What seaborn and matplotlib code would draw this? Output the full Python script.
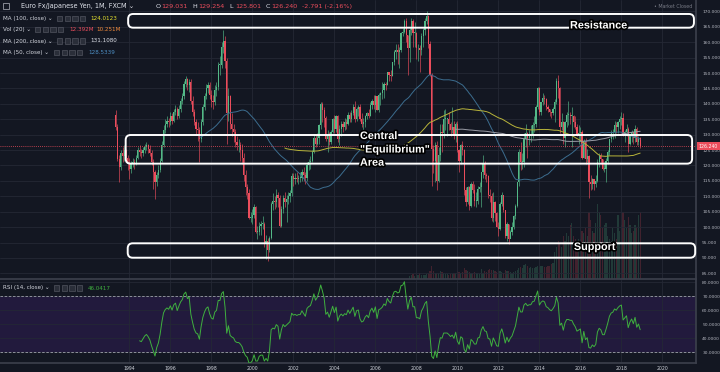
import numpy as np
import pandas as pd
import matplotlib
matplotlib.use('Agg')
import matplotlib.pyplot as plt
import matplotlib.patheffects as pe
from matplotlib.patches import FancyBboxPatch, Rectangle
from matplotlib.transforms import IdentityTransform
import seaborn as sns

# %%
# EUR/JPY monthly candles (FXCM), May 1993 .. Dec 2018, one row per year
first_open = 136.5
closes = [
    132.5, 122.0, 119.5, 124.0, 123.0, 125.0, 122.5, 121.0,
    119.0, 120.5, 121.0, 120.5, 122.5, 125.0, 124.5, 124.0, 125.0, 126.0, 126.5, 125.5,
    124.0, 121.0, 118.0, 114.5, 117.0, 118.5, 121.5, 126.5, 131.5, 133.5, 134.5, 134.0,
    136.0, 134.5, 137.5, 138.5, 136.0, 138.5, 141.0, 142.5, 146.5, 148.0, 146.0, 147.0,
    141.0, 137.5, 134.0, 132.0, 131.5, 128.5, 134.0, 139.0, 142.5, 145.0, 146.0, 143.0,
    141.0, 140.5, 144.5, 145.5, 152.5, 152.5, 158.5, 160.5, 154.0, 137.0, 142.5, 133.5,
    132.0, 131.0, 127.5, 126.5, 126.5, 125.0, 122.5, 117.0, 113.0, 111.0, 103.0, 103.0,
    104.0, 106.5, 98.5, 98.5, 100.5, 101.0, 101.0, 94.5, 95.5, 92.5, 96.5, 107.5,
    108.5, 108.0, 110.5, 109.5, 100.5, 106.0, 109.5, 108.0, 109.0, 110.0, 111.0, 116.5,
    115.5, 116.0, 115.5, 116.0, 116.0, 118.0, 117.0, 116.0, 120.0, 121.0, 121.5, 124.5,
    129.0, 127.0, 129.0, 133.0, 140.0, 138.0, 135.5, 128.5, 130.0, 127.5, 131.0, 135.0,
    132.0, 136.0, 128.5, 132.0, 133.5, 132.5, 134.0, 133.5, 136.5, 135.0, 137.0, 139.0,
    135.0, 138.5, 139.0, 135.0, 133.5, 134.0, 136.0, 137.0, 136.0, 139.5, 141.0, 139.5,
    142.5, 138.0, 143.0, 143.5, 144.5, 146.5, 146.0, 150.5, 149.5, 149.0, 153.5, 157.0,
    157.5, 157.0, 157.5, 163.0, 163.5, 167.0, 162.5, 158.0, 164.0, 167.0, 163.0, 163.0,
    158.0, 158.0, 157.5, 162.0, 164.0, 167.0, 168.5, 159.5, 149.5, 125.5, 121.5, 126.5,
    115.0, 123.5, 131.0, 130.5, 135.0, 135.0, 135.0, 133.5, 131.5, 132.5, 129.5, 133.5,
    125.0, 121.5, 126.5, 125.0, 112.0, 108.0, 113.0, 107.0, 114.0, 112.0, 108.5, 108.5,
    112.5, 113.0, 118.0, 120.5, 117.0, 116.5, 110.5, 110.0, 103.0, 108.0, 104.5, 100.0,
    99.5, 107.5, 110.5, 105.5, 97.0, 101.0, 96.0, 98.5, 100.0, 103.5, 107.0, 114.5,
    124.5, 121.0, 121.0, 128.5, 130.5, 129.0, 130.0, 130.0, 133.0, 133.5, 139.0, 145.0,
    137.5, 140.5, 142.0, 141.5, 139.0, 138.5, 137.5, 137.0, 138.5, 140.5, 147.5, 145.0,
    132.5, 134.0, 129.0, 134.0, 136.5, 136.5, 136.0, 136.0, 134.0, 132.5, 130.0, 130.5,
    131.0, 122.5, 128.0, 122.0, 123.0, 114.5, 114.0, 115.5, 114.0, 115.0, 121.0, 123.0,
    122.0, 119.0, 119.0, 121.5, 124.5, 128.5, 130.5, 131.0, 133.0, 132.5, 134.0, 135.0,
    135.5, 130.0, 131.0, 132.0, 127.0, 129.5, 131.0, 129.0, 132.0, 127.5, 129.031, 126.24,
]
highs = [
    138.0, 133.5, 123.5, 125.0, 126.0, 126.5, 125.5, 123.5,
    122.5, 121.5, 122.5, 122.0, 123.5, 126.0, 126.5, 125.5, 126.0, 127.0, 127.5, 127.0,
    126.5, 125.0, 122.0, 118.5, 118.0, 120.0, 122.5, 128.0, 133.0, 135.0, 136.0, 135.5,
    137.5, 137.0, 138.5, 139.5, 139.0, 139.5, 142.0, 143.5, 147.5, 149.0, 148.5, 148.0,
    148.0, 142.5, 138.5, 135.0, 134.0, 132.5, 135.0, 140.0, 143.5, 146.5, 147.0, 147.0,
    144.5, 143.0, 146.0, 147.0, 153.5, 155.5, 160.0, 164.0, 162.0, 155.0, 145.0, 143.0,
    137.0, 133.5, 132.0, 129.5, 128.5, 127.5, 127.0, 124.0, 118.5, 114.0, 112.5, 105.0,
    106.0, 107.5, 107.0, 100.5, 101.5, 102.0, 103.5, 101.5, 97.5, 96.5, 97.0, 108.0,
    111.0, 110.0, 112.5, 111.5, 110.5, 107.0, 110.5, 111.5, 110.5, 111.5, 112.0, 117.5,
    117.5, 117.5, 118.0, 117.0, 118.0, 119.0, 119.5, 118.0, 121.0, 122.0, 123.0, 125.0,
    130.0, 130.0, 130.5, 133.5, 140.5, 140.5, 139.0, 136.0, 131.5, 131.0, 131.5, 135.5,
    136.5, 136.5, 136.5, 133.0, 134.5, 134.5, 135.5, 135.0, 137.5, 137.5, 138.0, 140.0,
    141.0, 139.0, 139.5, 140.0, 137.0, 135.5, 136.5, 137.5, 138.5, 140.5, 141.5, 143.0,
    143.0, 142.5, 143.5, 144.0, 147.0, 147.0, 147.0, 150.5, 150.5, 151.0, 153.5, 157.5,
    159.5, 159.5, 158.5, 163.5, 164.5, 167.5, 168.0, 162.5, 165.0, 168.0, 167.5, 166.5,
    163.5, 159.5, 159.0, 163.0, 164.5, 168.0, 170.0, 169.0, 160.5, 150.0, 126.5, 127.5,
    128.0, 126.0, 133.5, 133.5, 138.0, 138.5, 135.5, 137.5, 134.0, 139.0, 134.5, 134.0,
    134.5, 125.5, 127.0, 128.0, 125.5, 113.0, 113.5, 113.5, 114.5, 115.0, 114.0, 111.5,
    113.5, 114.5, 118.0, 123.5, 121.5, 117.5, 117.0, 112.5, 111.0, 111.5, 108.5, 105.0,
    101.5, 108.0, 111.5, 110.5, 105.5, 101.5, 101.0, 99.0, 101.5, 104.0, 107.5, 114.5,
    125.5, 127.5, 124.0, 130.5, 133.5, 131.0, 131.5, 133.0, 134.0, 136.0, 139.5, 145.5,
    145.5, 140.5, 143.5, 143.0, 142.0, 139.5, 138.5, 137.5, 139.0, 141.5, 148.5, 149.5,
    145.5, 137.0, 134.5, 134.5, 137.5, 141.0, 137.5, 139.0, 136.5, 136.0, 133.5, 133.0,
    132.5, 131.5, 128.5, 129.0, 125.5, 123.5, 117.0, 116.0, 115.5, 117.0, 122.0, 124.0,
    124.0, 122.0, 121.0, 122.5, 125.0, 128.5, 131.5, 132.0, 134.5, 134.0, 134.5, 136.0,
    137.5, 137.0, 131.5, 133.5, 132.5, 130.0, 131.5, 131.0, 133.0, 132.5, 129.5, 129.254,
]
lows = [
    131.5, 121.5, 114.5, 118.5, 121.0, 121.5, 121.0, 118.5,
    115.5, 117.5, 119.5, 119.0, 120.0, 122.0, 123.0, 122.5, 123.0, 124.0, 125.0, 124.0,
    123.0, 120.0, 112.5, 109.0, 113.5, 116.0, 118.0, 121.0, 126.0, 130.5, 132.5, 132.5,
    133.0, 133.5, 134.0, 136.5, 135.0, 135.5, 137.5, 140.0, 141.5, 145.5, 144.5, 144.0,
    140.0, 136.0, 133.0, 130.0, 128.0, 121.0, 127.5, 133.0, 138.0, 141.5, 143.5, 141.5,
    139.0, 138.5, 139.5, 142.5, 144.5, 149.5, 151.5, 156.5, 151.5, 127.0, 134.5, 132.0,
    129.5, 127.5, 126.0, 125.0, 124.5, 121.5, 120.5, 115.0, 110.5, 109.0, 102.5, 101.5,
    101.0, 103.0, 98.0, 96.0, 97.5, 97.5, 99.5, 93.5, 89.5, 89.0, 92.0, 96.0,
    105.5, 106.0, 106.5, 106.5, 100.0, 100.0, 104.5, 106.5, 101.5, 107.5, 108.0, 110.0,
    113.5, 114.0, 114.5, 114.0, 114.5, 115.0, 115.0, 114.0, 115.0, 118.5, 119.0, 121.0,
    124.0, 126.0, 126.5, 127.0, 132.0, 134.0, 132.5, 128.0, 124.5, 126.5, 127.0, 130.5,
    130.5, 131.0, 127.5, 126.5, 129.5, 131.0, 131.5, 132.0, 133.0, 134.0, 134.0, 136.5,
    134.0, 134.5, 136.0, 134.5, 132.5, 131.5, 132.5, 135.0, 135.5, 136.0, 138.5, 138.5,
    137.5, 138.0, 137.5, 139.5, 141.5, 142.0, 144.5, 146.0, 147.5, 147.5, 149.0, 152.5,
    154.5, 153.0, 151.5, 157.0, 162.0, 163.0, 160.0, 149.5, 153.5, 162.5, 158.5, 158.5,
    154.5, 154.0, 150.5, 156.0, 158.5, 162.5, 166.0, 158.0, 149.0, 113.5, 117.5, 114.5,
    112.0, 114.5, 121.5, 124.5, 129.0, 131.5, 129.5, 131.5, 129.5, 130.5, 128.5, 127.5,
    124.5, 118.0, 120.5, 123.5, 110.5, 107.0, 107.5, 105.5, 106.5, 111.0, 107.0, 106.5,
    107.5, 111.5, 106.5, 116.0, 115.5, 114.5, 109.5, 108.0, 102.0, 101.5, 102.0, 100.0,
    97.0, 99.0, 107.0, 105.0, 96.5, 95.5, 94.5, 96.5, 97.5, 99.5, 102.5, 106.5,
    113.5, 118.5, 119.0, 119.5, 126.0, 122.5, 126.5, 127.5, 129.0, 131.0, 132.5, 138.5,
    136.5, 136.5, 139.5, 140.0, 138.0, 137.5, 136.0, 135.5, 136.5, 134.0, 140.0, 142.0,
    130.5, 131.5, 127.0, 126.0, 132.5, 133.0, 133.5, 126.0, 132.5, 132.0, 129.5, 127.0,
    128.0, 122.0, 122.5, 120.5, 121.0, 109.5, 112.0, 112.5, 112.0, 113.0, 114.5, 119.5,
    120.5, 118.5, 118.0, 114.5, 120.5, 123.5, 127.5, 128.5, 129.0, 130.5, 130.5, 132.0,
    133.0, 129.5, 127.5, 129.5, 124.5, 126.5, 127.5, 127.0, 127.5, 126.5, 126.5, 125.801,
]
# FXCM volume (millions), Sep 2007 .. Dec 2018
vol_start = '2007-09-01'
volumes = [
    0.5, 0.7, 0.9, 0.6,
    0.9, 0.8, 1.1, 0.8, 0.8, 0.8, 0.9, 1.1, 1.5, 2.4, 1.5, 1.2,
    1.2, 1.1, 1.4, 1.3, 1.1, 1.0, 0.9, 0.8, 1.0, 1.0, 1.1, 1.2,
    1.4, 1.3, 1.2, 1.3, 2.0, 1.6, 1.4, 1.3, 1.2, 1.1, 1.3, 1.2,
    1.2, 1.0, 1.8, 1.2, 1.5, 1.3, 1.6, 1.8, 1.6, 1.7, 1.5, 1.3,
    1.5, 1.4, 1.3, 1.2, 1.6, 1.5, 1.4, 1.3, 1.2, 1.3, 1.4, 1.6,
    2.0, 2.2, 2.0, 2.6, 2.8, 2.4, 2.0, 2.2, 2.1, 2.0, 2.3, 2.5,
    2.3, 2.4, 2.5, 2.3, 2.2, 2.4, 2.5, 2.8, 3.0, 5.0, 6.0, 7.0,
    6.5, 6.0, 8.0, 7.0, 8.5, 8.0, 10.0, 10.5, 8.0, 7.5, 7.0, 7.5,
    7.5, 9.0, 8.5, 9.5, 8.0, 12.5, 11.0, 9.0, 8.5, 10.5, 14.0, 12.5,
    12.0, 9.5, 10.0, 10.5, 8.0, 7.5, 7.0, 9.5, 8.5, 7.5, 12.0, 9.0,
    10.0, 12.5, 11.0, 9.5, 11.5, 10.0, 8.5, 9.0, 10.0, 9.5, 12.0, 12.4,
]
last_close = 126.24
year_ticks = list(range(1994, 2021, 2))
price_ticks = list(range(85, 171, 5))
rsi_ticks = [30, 40, 50, 60, 70, 80]

# zones drawn on the chart: (x from, x to, price low, price high)
zones = {
    'Resistance': (1993.94, 2021.54, 164.74, 169.19),
    'Central': (1993.82, 2021.45, 120.6, 129.9),
    'Support': (1993.92, 2021.60, 90.06, 94.74),
}

# %%
bg = '#131722'
grid_c = '#242835'
up_c = '#53b987'
dn_c = '#eb4d5c'
sns.set_theme(style='dark', rc={'axes.facecolor': bg, 'figure.facecolor': bg,
                                'axes.edgecolor': '#3b3f4b', 'grid.color': grid_c,
                                'text.color': '#d1d4dc', 'xtick.color': '#d1d4dc',
                                'ytick.color': '#b2b5be'})
plt.rcParams['font.family'] = ['DejaVu Sans']

dates = pd.date_range('1993-05-01', periods=len(closes), freq='MS')
df = pd.DataFrame({'x': dates.year + (dates.month - 1) / 12.0,
                   'open': [first_open] + closes[:-1],
                   'high': highs, 'low': lows, 'close': closes}, index=dates)
df['up'] = df['close'] >= df['open']
df['ma50'] = df['close'].rolling(50).mean()
df['ma100'] = df['close'].rolling(100).mean()
df['ma200'] = df['close'].rolling(200).mean()

# RSI 14 with Wilder smoothing, seeded by a simple mean like TradingView
d = df['close'].diff().values
g = np.clip(d, 0, None)
l = np.clip(-d, 0, None)
rsi = np.full(len(d), np.nan)
ag, al = g[1:15].mean(), l[1:15].mean()
rsi[14] = 100 - 100 / (1 + ag / al)
for i in range(15, len(d)):
    ag = (ag * 13 + g[i]) / 14
    al = (al * 13 + l[i]) / 14
    rsi[i] = 100 - 100 / (1 + ag / al)
df['rsi'] = rsi
vol = pd.Series(volumes, index=pd.date_range(vol_start, periods=len(volumes), freq='MS'))
df['vol'] = vol

# %%
W, H = 720, 372
fig = plt.figure(figsize=(7.2, 3.72), dpi=100)
aw = 696 / W
ax_vol = fig.add_axes([0, 1 - 279 / H, aw, 279 / H])
ax = fig.add_axes([0, 1 - 279 / H, aw, 279 / H], facecolor='none')
ax_rsi = fig.add_axes([0, 1 - 363 / H, aw, 83 / H])
xlim = (1987.69, 2021.64)
for a in (ax_vol, ax, ax_rsi):
    a.set_xlim(xlim)
    for s in a.spines.values():
        s.set_visible(False)

# volume underneath
vd = df.dropna(subset=['vol'])
vcols = [(0.33, 0.73, 0.53, 0.22) if u else (0.92, 0.30, 0.36, 0.22) for u in vd['up']]
ax_vol.bar(vd['x'], vd['vol'], width=0.058, color=vcols, linewidth=0)
ax_vol.set_ylim(0, 52)
ax_vol.set_xticks([])
ax_vol.set_yticks([])

# candles
cols = [up_c if u else dn_c for u in df['up']]
ax.vlines(df['x'], df['low'], df['high'], colors=cols, linewidth=0.45, zorder=3)
body = np.maximum((df['close'] - df['open']).abs(), 0.3)
ax.bar(df['x'], body, bottom=df[['open', 'close']].min(axis=1), width=0.058,
       color=cols, linewidth=0, zorder=4)
sns.lineplot(data=df, x='x', y='ma50', ax=ax, color='#3c6d8f', lw=0.7, zorder=5, estimator=None)
sns.lineplot(data=df, x='x', y='ma100', ax=ax, color='#b8b43a', lw=0.7, zorder=5, estimator=None)
sns.lineplot(data=df, x='x', y='ma200', ax=ax, color='#9a9ca6', lw=0.7, zorder=5, estimator=None)
ax.axhline(last_close, color=dn_c, lw=0.6, ls=(0, (1, 1.5)), zorder=6)

ax.set_ylim(83.15, 173.73)
ax.set_xticks(year_ticks)
ax.set_yticks(price_ticks)
ax.set_yticklabels([f'{v:.3f}' for v in price_ticks])
ax.yaxis.tick_right()
ax.tick_params(axis='y', labelsize=3.2, length=0, pad=4.5, labelcolor='#b2b5be')
ax.tick_params(axis='x', labelbottom=False, length=0)
ax.grid(True, color=grid_c, lw=0.6)
ax.set_xlabel('')
ax.set_ylabel('')
ax.spines['right'].set_visible(True)
ax.spines['right'].set_color('#3b3f4b')
ax.spines['bottom'].set_visible(True)
ax.spines['bottom'].set_color('#3b3f4b')

# last price tag
ax.text(1.004, last_close, f'{last_close:.3f}', transform=ax.get_yaxis_transform(),
        ha='left', va='center', fontsize=3.3, color='white', zorder=20, clip_on=False,
        bbox=dict(boxstyle='square,pad=0.35', fc=dn_c, ec='none'))

# zone boxes and labels
lab_kw = dict(color='white', fontsize=7.8, fontweight='bold', family=['Liberation Sans', 'DejaVu Sans'],
              path_effects=[pe.withStroke(linewidth=2.4, foreground='black')], zorder=12)
for name, (x0, x1, y0, y1) in zones.items():
    (px0, py0), (px1, py1) = ax.transData.transform([(x0, y0), (x1, y1)])
    box = FancyBboxPatch((px0, py0), px1 - px0, py1 - py0,
                         boxstyle='round,pad=0,rounding_size=5', transform=IdentityTransform(),
                         fill=False, ec='white', lw=1.4, zorder=9, clip_on=False)
    ax.add_artist(box)
ax.text(2016.9, 164.48, 'Resistance', ha='center', va='baseline', **lab_kw)
ax.text(2005.25, 128.6, 'Central', ha='left', va='baseline', **lab_kw)
ax.text(2005.25, 124.2, '"Equilibrium"', ha='left', va='baseline', **lab_kw)
ax.text(2005.25, 119.94, 'Area', ha='left', va='baseline', **lab_kw)
ax.text(2016.7, 92.57, 'Support', ha='center', va='baseline', **lab_kw)

# RSI pane
ax_rsi.axhspan(30, 70, color='#221a3d', lw=0, zorder=0)
sns.lineplot(data=df, x='x', y='rsi', ax=ax_rsi, color='#3fb03f', lw=0.7, zorder=3, estimator=None)
for lvl in (70, 30):
    ax_rsi.axhline(lvl, color='#9fa2ab', lw=0.6, ls=(0, (3, 2)), zorder=2)
ax_rsi.set_ylim(22.4, 81.6)
ax_rsi.set_yticks(rsi_ticks)
ax_rsi.set_yticklabels([f'{v:.4f}' for v in rsi_ticks])
ax_rsi.yaxis.tick_right()
ax_rsi.tick_params(axis='y', labelsize=3.2, length=0, pad=4.5, labelcolor='#b2b5be')
ax_rsi.set_xticks(year_ticks)
ax_rsi.set_xticklabels([str(y) for y in year_ticks])
ax_rsi.tick_params(axis='x', labelsize=3.3, length=0, pad=2.2, labelcolor='#d1d4dc')
ax_rsi.grid(True, color=grid_c, lw=0.6)
ax_rsi.set_xlabel('')
ax_rsi.set_ylabel('')
for s in ('right', 'bottom'):
    ax_rsi.spines[s].set_visible(True)
    ax_rsi.spines[s].set_color('#3b3f4b')

# %%
# header / legend texts (pixel positions)
def ftxt(x, y, s, color='#d1d4dc', size=4.1, **kw):
    fig.text(x / W, 1 - y / H, s, color=color, fontsize=size, va='center', ha='left', **kw)

def icons(x, y):
    for i in range(4):
        r = Rectangle((x + i * 7.6, H - y - 2.6), 5.4, 5.4, transform=IdentityTransform(),
                      fc='#2a2e39', ec='#5d606b', lw=0.4, zorder=20)
        fig.add_artist(r)

fig.add_artist(Rectangle((3, H - 9), 6, 6, transform=IdentityTransform(),
                         fc='none', ec='#b2b5be', lw=0.5, zorder=20))
ftxt(20.7, 6.3, 'Euro Fx/Japanese Yen, 1M, FXCM \u2304', size=4.7, color='#e0e3eb')
ohlc = [(155.7, 'O', '129.031'), (192.3, 'H', '129.254'), (229.3, 'L', '125.801'), (265.7, 'C', '126.240')]
for x, k, v in ohlc:
    ftxt(x, 6.3, k, size=4.6, color='#e0e3eb')
    ftxt(x + 5.5, 6.3, v, size=4.6, color=dn_c)
ftxt(302.3, 6.3, '-2.791 (-2.16%)', size=4.6, color=dn_c)
ftxt(654, 6.3, '\u2022 Market Closed', size=3.4, color='#787b86')

ftxt(2.7, 18.3, 'MA (100, close) \u2304', size=4.1)
icons(57, 18.3)
ftxt(90.7, 18.3, '124.0123', size=4.1, color='#e6e22e')
ftxt(2.7, 29.7, 'Vol (20) \u2304', size=4.1)
icons(35, 29.7)
ftxt(69.3, 29.7, '12.392M', size=4.1, color=dn_c)
ftxt(96.7, 29.7, '10.251M', size=4.1, color='#f0883a')
ftxt(2.7, 41.0, 'MA (200, close) \u2304', size=4.1)
icons(57, 41.0)
ftxt(90.7, 41.0, '131.1080', size=4.1, color='#e0e3eb')
ftxt(2.7, 52.3, 'MA (50, close) \u2304', size=4.1)
icons(54, 52.3)
ftxt(88, 52.3, '128.5339', size=4.1, color='#4d8fc4')
ftxt(2.7, 288, 'RSI (14, close) \u2304', size=4.1)
icons(54, 288)
ftxt(88, 288, '46.0417', size=4.1, color='#3fb03f')

fig.savefig('out.png', dpi=100, facecolor=bg)
